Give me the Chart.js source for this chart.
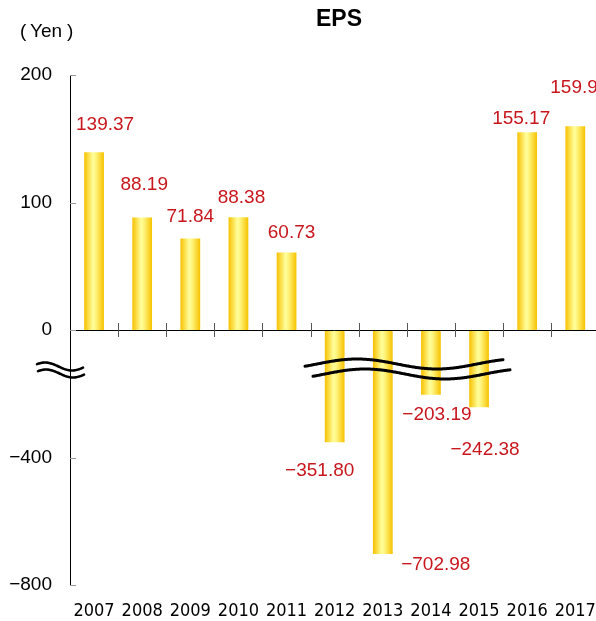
<!DOCTYPE html>
<html>
<head>
<meta charset="utf-8">
<script src="https://cdn.jsdelivr.net/npm/chart.js@4.4.1/dist/chart.umd.min.js"></script>
<style>
  html, body { margin:0; padding:0; background:#fff; overflow:hidden; }
  #wrap { width:604px; height:621px; }
</style>
</head>
<body>
<div id="wrap"><canvas id="epsChart" width="604" height="621"></canvas></div>
<script>
// Data
const years = ['2007','2008','2009','2010','2011','2012','2013','2014','2015','2016','2017'];
const eps = [139.37, 88.19, 71.84, 88.38, 60.73, -351.80, -702.98, -203.19, -242.38, 155.17, 159.9];
const yTicks = [200, 100, 0, -400, -800];

// broken axis: below zero the scale is squeezed by 4
const squeeze = 4;
const toDisp = v => v < 0 ? v / squeeze : v;
const fromDisp = v => v < 0 ? v * squeeze : v;
const fmt = v => (Number(v) < 0 ? '\u2212' : '') + String(v).replace('-', '');

const RED = '#C8161D';
const FONT = "'Liberation Sans', Arial, sans-serif";
const NARROW = "'Liberation Sans Narrow', 'Arial Narrow', 'DejaVu Sans Condensed', sans-serif";

// label nudges (dx, dy from bar end)
const labelShift = [[11,-28],[2,-33],[0,-22],[3,-20],[5,-20],[-15,29],[53,11],[6,20],[6,43],[-6,-13],[4,-38]];

function barGradient(ctx){
  const chart = ctx.chart;
  const xs = chart.scales.x;
  if(!xs || ctx.dataIndex === undefined) return '#FFE866';
  const cx = xs.getPixelForValue(ctx.dataIndex);
  const w = xs.width / years.length * 0.41;
  if(!isFinite(cx) || !isFinite(w) || w <= 0) return '#FFE866';
  const g = chart.ctx.createLinearGradient(cx - w/2, 0, cx + w/2, 0);
  g.addColorStop(0, '#F7C000');
  g.addColorStop(0.45, '#FFFF9C');
  g.addColorStop(0.6, '#FFF37A');
  g.addColorStop(1, '#F6C200');
  return g;
}

// wavy line helper
function wave(c, x1, x2, xPeak, mid, amp, period){
  c.beginPath();
  for(let x = x1; x <= x2; x += 1){
    const y = mid - amp * Math.cos(2 * Math.PI * (x - xPeak) / period);
    if(x === x1) c.moveTo(x, y); else c.lineTo(x, y);
  }
  c.stroke();
}

const decorPlugin = {
  id: 'decor',
  afterDatasetsDraw(chart){
    const c = chart.ctx;
    const xs = chart.scales.x, ys = chart.scales.y;
    const area = chart.chartArea;
    const y0 = ys.getPixelForValue(0);
    c.save();

    // x axis at zero
    c.strokeStyle = '#000';
    c.lineWidth = 1;
    c.beginPath();
    c.moveTo(area.left, Math.round(y0) + 0.5);
    c.lineTo(area.right, Math.round(y0) + 0.5);
    c.stroke();

    // category boundary ticks
    c.strokeStyle = '#555';
    const step = xs.width / years.length;
    for(let i = 1; i < years.length; i++){
      const x = Math.round(area.left + i * step) + 0.5;
      c.beginPath();
      c.moveTo(x, y0 - 7);
      c.lineTo(x, y0 + 7);
      c.stroke();
    }

    // small gray y ticks inside
    c.strokeStyle = '#999';
    yTicks.forEach(t => {
      const y = Math.round(ys.getPixelForValue(toDisp(t))) + 0.5;
      c.beginPath();
      c.moveTo(area.left, y);
      c.lineTo(area.left + 6, y);
      c.stroke();
    });

    // value labels
    c.fillStyle = RED;
    c.font = '19px ' + FONT;
    c.textAlign = 'center';
    c.textBaseline = 'middle';
    chart.getDatasetMeta(0).data.forEach((bar, i) => {
      const [dx, dy] = labelShift[i];
      c.fillText(fmt(eps[i].toFixed(2)), bar.x + dx, bar.y + dy);
    });

    // break marks
    c.strokeStyle = '#000';
    c.lineCap = 'round';
    c.lineWidth = 3;
    wave(c, 305, 503, 357, y0 + 34, 5, 160);
    wave(c, 313, 510, 365, y0 + 44, 5, 160);
    c.lineWidth = 2.6;
    wave(c, 37, 83, 45, y0 + 36.5, 4, 54);
    wave(c, 38, 84, 46, y0 + 43.5, 4, 54);

    // title and unit
    c.fillStyle = '#000';
    c.textBaseline = 'middle';
    c.textAlign = 'center';
    c.font = 'bold 23px ' + FONT;
    c.fillText('EPS', 339, 20);
    c.textAlign = 'left';
    c.font = '19px ' + FONT;
    c.fillText('(', 20, 32);
    c.fillText('Yen', 30, 32);
    c.fillText(')', 67, 32);
    c.restore();
  }
};

new Chart(document.getElementById('epsChart'), {
  type: 'bar',
  data: {
    labels: years,
    datasets: [{
      label: 'EPS',
      data: eps.map(toDisp),
      backgroundColor: barGradient,
      borderWidth: 0,
      barPercentage: 0.41,
      categoryPercentage: 1
    }]
  },
  options: {
    responsive: false,
    animation: false,
    layout: { padding: { top: 75, left: 0, right: 2, bottom: 0 } },
    plugins: { legend: { display: false }, tooltip: { enabled: false } },
    scales: {
      x: {
        grid: { display: false },
        border: { display: false },
        ticks: { color: '#000', font: { size: 18, family: NARROW }, padding: 8, maxRotation: 0, autoSkip: false },
        afterFit: s => { s.height = 36; }
      },
      y: {
        min: -200,
        max: 200,
        grid: { display: false },
        border: { display: true, color: '#000', width: 1 },
        ticks: {
          stepSize: 100,
          color: '#000',
          padding: 10,
          font: { size: 19, family: FONT },
          callback: v => fmt(fromDisp(v))
        },
        afterFit: s => { s.width = 70; }
      }
    }
  },
  plugins: [decorPlugin]
});
</script>
</body>
</html>
